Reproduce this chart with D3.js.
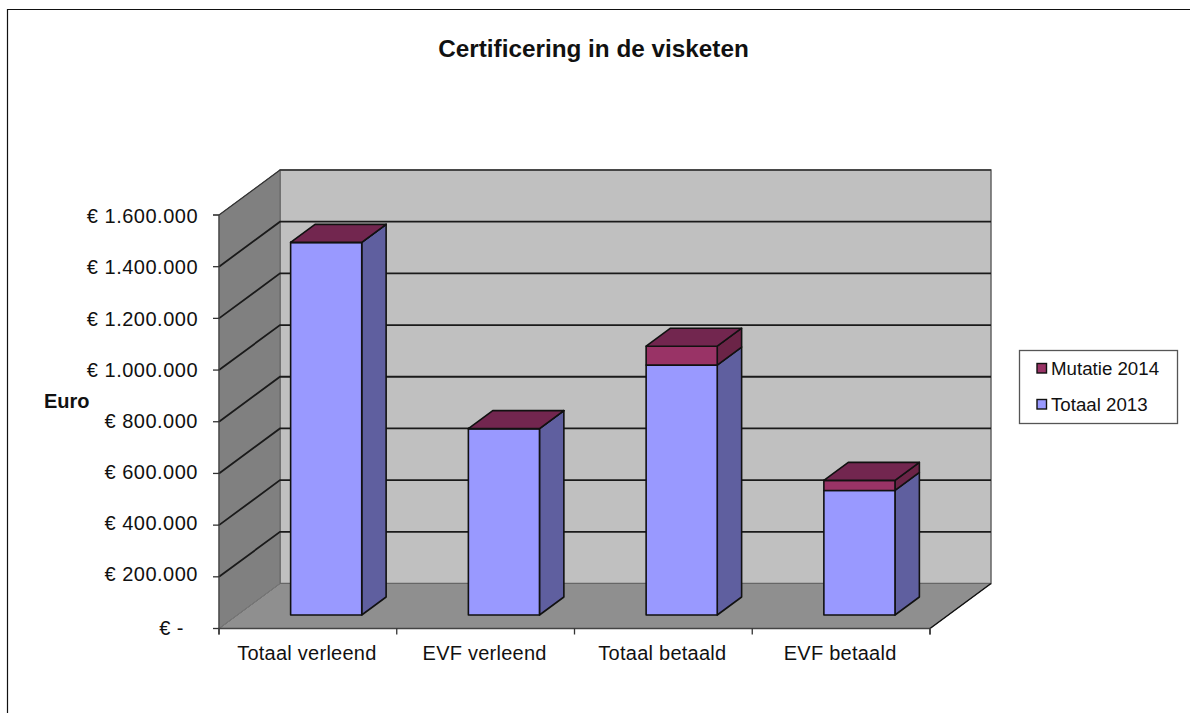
<!DOCTYPE html>
<html><head><meta charset="utf-8">
<script src="https://cdn.jsdelivr.net/npm/d3@7/dist/d3.min.js"></script>
<style>html,body{margin:0;padding:0;background:#fff}svg{display:block}text{font-family:"Liberation Sans",Arial,sans-serif;fill:#111}</style>
</head><body><svg id="c" width="1190" height="713"></svg>
<script>
const categories = ["Totaal verleend","EVF verleend","Totaal betaald","EVF betaald"];
const totaal2013 = [1442000,721000,967000,482000];
const mutatie2014 = [0,0,73000,39000];
const seriesNames = ["Mutatie 2014","Totaal 2013"];
const yTicks = [0,200000,400000,600000,800000,1000000,1200000,1400000,1600000];
const titleText = "Certificering in de visketen";
const yTitle = "Euro";

const svg = d3.select("#c");
const left=219, right=930, floorY=628.5, topY=215;
const depthX=61, depthY=45;
const barDepth=0.4, barFront=0.3;

const x = d3.scaleBand().domain(categories).range([left,right]).paddingInner(0).paddingOuter(0);
const y = d3.scaleLinear().domain([0,1600000]).range([floorY,topY]);
// label baseline drift in the original: labels sit slightly tighter than the ticks
const labelY = d3.scaleLinear().domain([200000,1600000]).range([574,216]);
// d: 0 = front of chart, 1 = back wall
const P = (px,py,d)=>[px+d*depthX, py-d*depthY];
const poly = pts => "M"+pts.map(p=>p.join(",")).join("L")+"Z";
const line = pts => "M"+pts.map(p=>p.join(",")).join("L");

const WALL="#c0c0c0", SIDE="#808080", FLOOR="#8f8f8f", EDGE="#666";
const blue={front:"#9999ff",side:"#5f5f9f",top:"#5f5f9f"};
const mar={front:"#993366",side:"#6b2447",top:"#72264f"};

// side wall, floor, back wall
svg.append("path").attr("d",poly([P(left,y(1600000),1),P(right,y(1600000),1),P(right,y(0),1),P(left,y(0),1)]))
  .attr("fill",WALL).attr("stroke",EDGE).attr("stroke-width",1.5);
svg.append("path").attr("d",poly([P(left,y(0),0),P(left,y(0),1),P(right,y(0),1),P(right,y(0),0)]))
  .attr("fill",FLOOR).attr("stroke",EDGE).attr("stroke-width",1);
svg.append("path").attr("d",line([P(right,y(0),0),P(right,y(0),1)])).attr("stroke","#111").attr("stroke-width",1.5).attr("fill","none");
svg.append("path").attr("d",poly([P(left,y(0),0),P(left,y(1600000),0),P(left,y(1600000),1),P(left,y(0),1)]))
  .attr("fill",SIDE).attr("stroke",EDGE).attr("stroke-width",1);
svg.append("path").attr("d",line([P(left,y(1600000),0),P(left,y(1600000),1)])).attr("stroke","#333").attr("stroke-width",1.2).attr("fill","none");
svg.append("path").attr("d",line([P(left,y(1600000),1),P(right,y(1600000),1)])).attr("stroke","#333").attr("stroke-width",1.5).attr("fill","none");
svg.append("path").attr("d",line([P(left,y(0),0),P(left,y(0),1)])).attr("stroke","#777").attr("stroke-width",1).attr("fill","none");

// gridlines
svg.append("g").selectAll("path").data(yTicks.filter(v=>v>0&&v<1600000)).join("path")
  .attr("fill","none").attr("stroke","#1a1a1a").attr("stroke-width",1.8)
  .attr("d",v=>line([P(left,y(v),0),P(left,y(v),1),P(right,y(v),1)]));

// bars
const bw = x.bandwidth()/2.5;
const bars = svg.append("g").attr("stroke","#111").attr("stroke-width",1.6).attr("stroke-linejoin","round");
categories.forEach((c,i)=>{
  const x0 = x(c)+(x.bandwidth()-bw)/2, x1 = x0+bw;
  const v0 = totaal2013[i], v1 = v0+mutatie2014[i];
  const d0 = barFront, d1 = barFront+barDepth;
  const F=(px,v,d)=>P(px,y(v),d);
  const box=(a,b,col,withTop)=>{
    bars.append("path").attr("fill",col.side).attr("d",poly([F(x1,a,d0),F(x1,b,d0),F(x1,b,d1),F(x1,a,d1)]));
    bars.append("path").attr("fill",col.front).attr("d",poly([F(x0,a,d0),F(x0,b,d0),F(x1,b,d0),F(x1,a,d0)]));
    if(withTop) bars.append("path").attr("fill",col.top).attr("d",poly([F(x0,b,d0),F(x0,b,d1),F(x1,b,d1),F(x1,b,d0)]));
  };
  box(0,v0,blue,false);
  box(v0,v1,mar,true);
});

// axes
const fmt = v => v===0 ? "€ -" : "€ "+d3.format(",")(v).replace(/,/g,".");
const yAxis = svg.append("g").attr("transform",`translate(${left},0)`)
  .call(d3.axisLeft(y).tickValues(yTicks).tickSize(6).tickPadding(0).offset(0).tickFormat(fmt));
yAxis.select(".domain").attr("stroke","#444").attr("stroke-width",1.2);
yAxis.selectAll(".tick line").attr("stroke","#333").attr("stroke-width",1.3);
yAxis.selectAll(".tick text").attr("x",-21).attr("font-size",20).attr("letter-spacing",0.5).attr("dy","0.36em")
  .attr("y",v=>v===0 ? -0.5 : labelY(v)-y(v));
yAxis.selectAll(".tick").filter(v=>v===0).select("text").attr("x",-35);

const edgeScale = d3.scalePoint().domain(d3.range(categories.length+1)).range([left,right]);
const xEdge = svg.append("g").attr("transform",`translate(0,${floorY})`)
  .call(d3.axisBottom(edgeScale).tickSize(6).offset(0).tickFormat(""));
xEdge.select(".domain").attr("stroke","#444").attr("stroke-width",1.5);
xEdge.selectAll(".tick line").attr("stroke","#333").attr("stroke-width",1.3);
const xAxis = svg.append("g").attr("transform",`translate(0,${floorY})`)
  .call(d3.axisBottom(x).tickSize(0).tickPadding(17));
xAxis.select(".domain").remove();
xAxis.selectAll("text").attr("font-size",20).attr("letter-spacing",0.25).attr("dx",-1);

// titles
svg.append("text").attr("x",593.5).attr("y",57).attr("text-anchor","middle").attr("font-size",24.3).attr("font-weight","bold").text(titleText);
svg.append("text").attr("x",44).attr("y",408).attr("font-size",20).attr("font-weight","bold").text(yTitle);

// legend
const lg = svg.append("g");
lg.append("rect").attr("x",1019.5).attr("y",350.5).attr("width",158).attr("height",73).attr("fill","#fff").attr("stroke","#555").attr("stroke-width",1.3);
const ly = d3.scalePoint().domain(seriesNames).range([368,404]);
const lc = {"Mutatie 2014":mar.front,"Totaal 2013":blue.front};
seriesNames.forEach(n=>{
  lg.append("rect").attr("x",1037).attr("y",ly(n)-4.5).attr("width",9.5).attr("height",9.5).attr("fill",lc[n]).attr("stroke","#111").attr("stroke-width",1.4);
  lg.append("text").attr("x",1051).attr("y",ly(n)+6.5).attr("font-size",18.7).text(n);
});

// outer frame
svg.append("path").attr("d","M7.5,713V9.5H1190").attr("fill","none").attr("stroke","#111").attr("stroke-width",1.2);
</script></body></html>
